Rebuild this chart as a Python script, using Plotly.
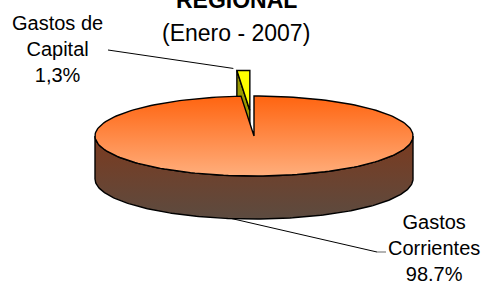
import numpy as np
import plotly.graph_objects as go

# ---- data ----
categories = ["Gastos Corrientes", "Gastos de Capital"]
label_lines = [["Gastos", "Corrientes"], ["Gastos de", "Capital"]]
values = [98.7, 1.3]
decimal_sep = [".", ","]
title_lines = ["REGIONAL", "(Enero - 2007)"]

# ---- layout / geometry (pixels) ----
W, H = 486, 284
cx, cy, rx, ry, depth = 254, 136, 159, 40, 43
explode = [0.0, 0.64]
top_cols = ["#FF6410", "#FFAE7C"]
slice_top = ["#FF6A10", "#FFFF00"]
slice_side = "#999900"
side_cols = ["#7C3A1E", "#5C4B40"]

total = sum(values)
bounds = np.cumsum([0] + values) / total * 360.0


def pt(phi_deg, ox=0.0, oy=0.0, dz=0.0):
    p = np.radians(phi_deg)
    return cx + ox + rx * np.sin(p), cy + oy - ry * np.cos(p) + dz


def arc(a0, a1, ox=0.0, oy=0.0, dz=0.0, n=200):
    phis = np.linspace(a0, a1, n)
    xs, ys = pt(phis, ox, oy, dz)
    return list(xs), list(ys)


fig = go.Figure()
line_style = dict(color="black", width=1.4)

# exploded small slice (drawn first, behind main pie)
i = 1
a0, a1 = bounds[i], bounds[i + 1]
mid = np.radians((a0 + a1) / 2)
ox = explode[i] * rx * np.sin(mid)
oy = -explode[i] * ry * np.cos(mid)
bx, by = pt(a0, ox, oy)
fx = [cx + ox, bx, bx, cx + ox, cx + ox]
fy = [cy + oy, by, by + depth, cy + oy + depth, cy + oy]
fig.add_trace(go.Scatter(x=fx, y=fy, mode="lines", fill="toself",
                         fillcolor=slice_side, line=line_style, hoverinfo="skip"))
ax, ay = arc(a0, a1, ox, oy)
fig.add_trace(go.Scatter(x=[cx + ox] + ax + [cx + ox], y=[cy + oy] + ay + [cy + oy],
                         mode="lines", fill="toself", fillcolor=slice_top[i],
                         line=line_style, hoverinfo="skip"))
cap_anchor = pt((a0 + a1) / 2, ox, oy)

# main slice: front side band
tx, ty = arc(90, 270)
bx2, by2 = arc(270, 90, dz=depth)
fig.add_trace(go.Scatter(x=tx + bx2 + [tx[0]], y=ty + by2 + [ty[0]], mode="lines",
                         fill="toself",
                         fillgradient=dict(type="vertical",
                                           colorscale=[[0, side_cols[0]], [1, side_cols[1]]],
                                           start=cy, stop=cy + ry + depth),
                         line=line_style, hoverinfo="skip"))
# main slice top face
i = 0
ax, ay = arc(bounds[i], bounds[i + 1])
fig.add_trace(go.Scatter(x=[cx] + ax + [cx], y=[cy] + ay + [cy], mode="lines",
                         fill="toself",
                         fillgradient=dict(type="vertical",
                                           colorscale=[[0, top_cols[0]], [1, top_cols[1]]],
                                           start=cy - ry, stop=cy + ry),
                         line=line_style, hoverinfo="skip"))

# labels
font = dict(family="Liberation Sans, Arial", size=20, color="black")


def pct_text(k):
    return f"{values[k]:.1f}".replace(".", decimal_sep[k]) + "%"


lab_pos = [(434, 248), (57, 49)]
for k in range(2):
    txt = "<br>".join(label_lines[k] + [pct_text(k)])
    fig.add_annotation(x=lab_pos[k][0], y=lab_pos[k][1], text=txt, showarrow=False,
                       font=font, align="center", xanchor="center", yanchor="middle")

# leader lines
fig.add_trace(go.Scatter(x=[108, cap_anchor[0] - 10], y=[50, cap_anchor[1] - 2], mode="lines",
                         line=dict(color="black", width=1), hoverinfo="skip"))
fa = pt(188, dz=depth)
fig.add_trace(go.Scatter(x=[fa[0], 377], y=[fa[1], 252], mode="lines",
                         line=dict(color="black", width=1), hoverinfo="skip"))
fig.add_trace(go.Scatter(x=[377, 386], y=[252, 252], mode="lines",
                         line=dict(color="#808080", width=1.2), hoverinfo="skip"))

# title
tfont = dict(family="Liberation Sans, Arial", size=23, color="black")
fig.add_annotation(xref="x", yref="paper", x=236, y=1.0, text="<b>" + title_lines[0] + "</b>",
                   showarrow=False, font=tfont, xanchor="center", yanchor="middle", yshift=0)
fig.add_annotation(x=236, y=33, text=title_lines[1], showarrow=False,
                   font=tfont, xanchor="center", yanchor="middle")

fig.update_layout(width=W, height=H, margin=dict(l=0, r=0, t=0, b=0),
                  paper_bgcolor="white", plot_bgcolor="white", showlegend=False,
                  xaxis=dict(range=[0, W], visible=False, fixedrange=True),
                  yaxis=dict(range=[H, 0], visible=False, fixedrange=True))
fig.write_html("out.html", config={"displayModeBar": False},
               post_script="document.body.style.margin='0';document.body.style.overflow='hidden';")
